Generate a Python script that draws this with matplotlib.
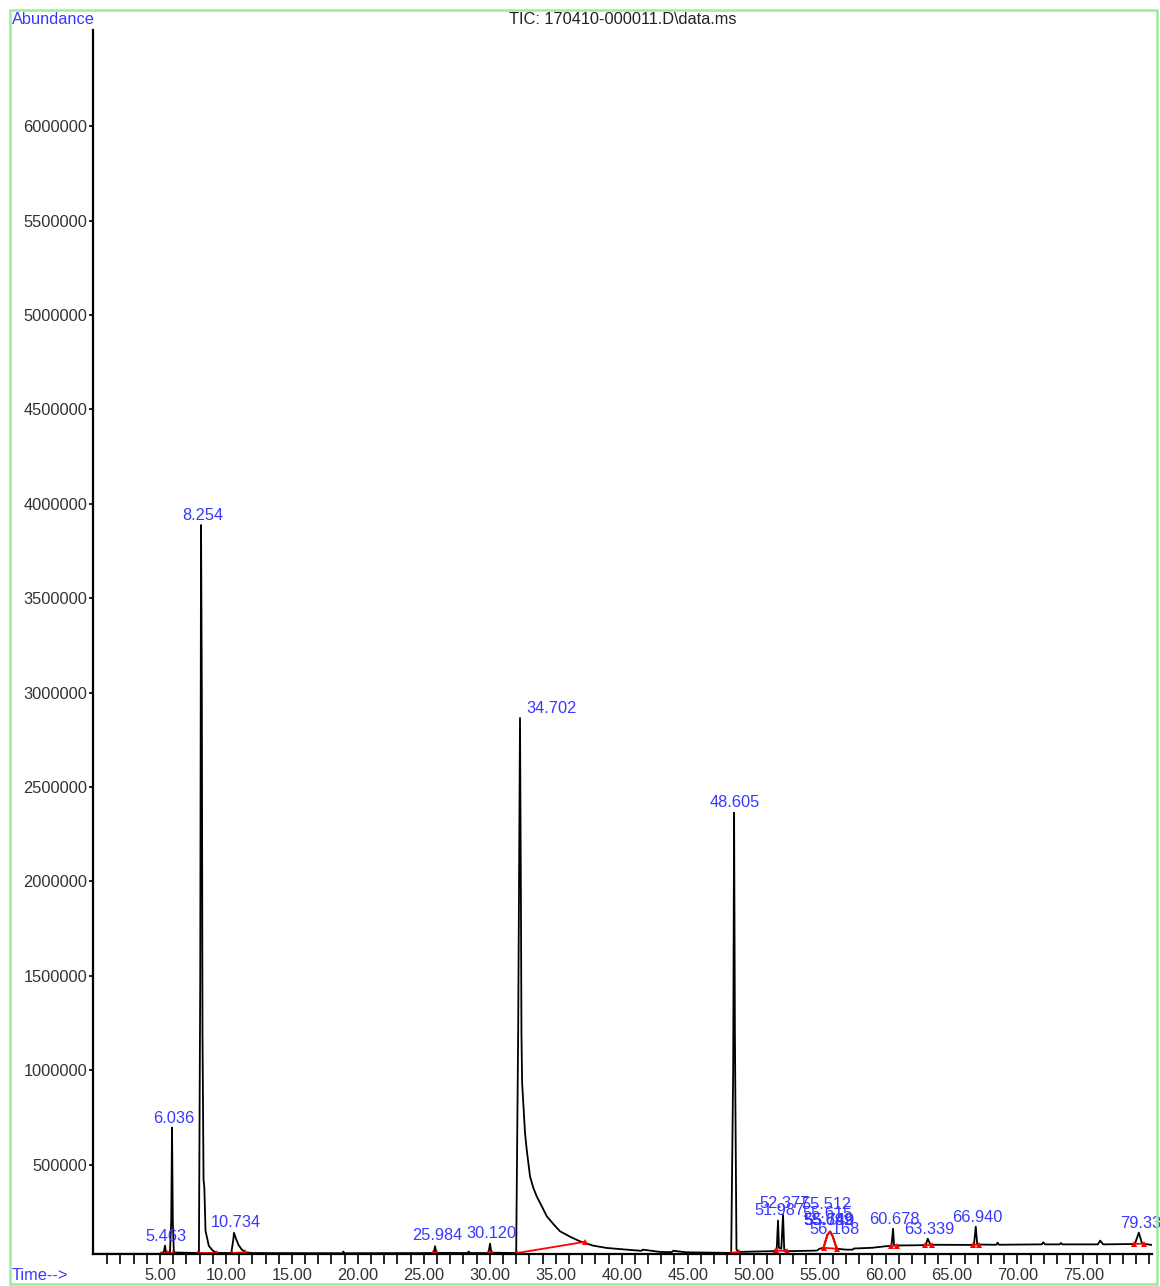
import matplotlib
matplotlib.use("Agg")
import matplotlib.pyplot as plt
from matplotlib.patches import Rectangle

plt.rcParams["font.family"] = ["Liberation Sans", "DejaVu Sans"]

# --- trace vertices (time in min, abundance) ---
trace_t = [
    0.0, 5.10, 5.30, 5.38, 5.45, 5.75, 5.85, 5.91, 5.97, 6.05,
    7.95, 8.05, 8.11, 8.17, 8.22, 8.30, 8.36, 8.45, 8.70, 9.00, 9.30,
    10.40, 10.55, 10.61, 10.75, 10.95, 11.20, 11.50, 12.00,
    18.85, 18.90, 18.95, 25.75, 25.85, 25.95, 28.30, 28.40, 28.50,
    29.90, 30.02, 30.12, 32.00, 32.15, 32.29, 32.36, 32.40, 32.45,
    32.67, 32.80, 33.05, 33.30, 33.56, 33.94, 34.32, 34.85, 35.33,
    36.10, 36.84, 37.85, 38.87, 40.89, 41.50,
    41.60, 42.91, 43.80, 43.90, 44.93, 47.97,
    48.30, 48.45, 48.52, 48.58, 48.70, 48.90, 50.00, 51.50, 51.75,
    51.85, 51.92, 52.10, 52.23, 52.32, 52.60, 54.80, 55.00, 55.30,
    55.60, 55.80, 56.00, 56.30, 57.00, 57.50, 57.60, 59.00, 60.00,
    60.45, 60.57, 60.65, 62.00, 63.05, 63.20, 63.40, 66.70, 66.84,
    66.95, 68.40, 68.50, 68.60, 71.85, 71.95, 72.10, 73.20, 73.30,
    73.40, 76.10, 76.27, 76.50, 78.90, 79.20, 79.45, 80.20,
]
trace_y = [
    28000, 28000, 40000, 72000, 35000, 30000, 200000, 696000, 200000, 35000,
    32000, 1500000, 3888000, 3000000, 1200000, 420000, 380000, 150000, 70000, 45000, 33000,
    32000, 100000, 139000, 110000, 75000, 50000, 36000, 32000,
    31000, 40000, 31000, 32000, 68000, 33000, 32000, 40000, 32000,
    32000, 82000, 34000, 32000, 1200000, 2866000, 1900000, 1200000, 934000,
    668000, 579000, 438000, 377000, 332000, 280000, 227000, 183000, 147000,
    118000, 94000, 71000, 59000, 47000, 44000,
    50000, 38000, 37000, 44000, 36000, 33000,
    33000, 1000000, 2364000, 1200000, 50000, 38000, 40000, 42000, 50000,
    204000, 60000, 55000, 235000, 50000, 42000, 45000, 55000, 60000,
    130000, 146000, 120000, 55000, 50000, 50000, 56000, 60000, 68000,
    70000, 161000, 72000, 73000, 74000, 108000, 76000, 75000, 172000,
    77000, 76000, 87000, 76000, 78000, 89000, 78000, 78000, 85000,
    78000, 78000, 98000, 78000, 80000, 140000, 82000, 75000,
]

# --- peak labels (retention time text, apex abundance) ---
peak_labels = ["5.463", "6.036", "8.254", "10.734", "25.984", "30.120",
               "34.702", "48.605", "51.987", "52.377", "55.512", "55.615",
               "55.649", "55.692", "55.749", "56.168", "60.678", "63.339",
               "66.940", "79.33"]
peak_apex = [71000, 696000, 3894000, 146000, 77000, 87000,
             2867000, 2369000, 209000, 246000, 241000, 195000,
             156000, 156000, 156000, 108000, 161000, 108000,
             172000, 140000]

# --- integration baselines (start, end times and levels) ---
int_start_t = [5.10, 5.60, 7.90, 10.45, 25.70, 29.90, 32.05, 48.30, 51.70, 55.30, 60.40, 63.00, 66.60, 78.80]
int_end_t = [5.50, 6.00, 9.30, 11.45, 26.00, 30.20, 37.25, 48.90, 52.50, 56.30, 60.90, 63.50, 67.10, 79.60]
int_start_y = [28000, 30000, 32000, 32000, 32000, 32000, 32000, 33000, 46000, 60000, 70000, 74000, 75000, 80000]
int_end_y = [30000, 33000, 33000, 36000, 33000, 34000, 92000, 38000, 42000, 55000, 72000, 76000, 77000, 82000]

# red outline of the cluster peak near 55.8 min
cluster_t = [55.30, 55.60, 55.80, 56.00, 56.30]
cluster_y = [60000, 130000, 146000, 120000, 55000]

W, H = 1160, 1286
fig = plt.figure(figsize=(W / 100, H / 100), dpi=100)
ax = fig.add_axes([93 / W, 1 - 1254 / H, (1152 - 93) / W, (1254 - 30) / H])

ax.plot(trace_t, trace_y, color="black", linewidth=1.3, solid_joinstyle="round")
ax.plot(cluster_t, cluster_y, color="red", linewidth=1.5)

for t0, t1, y0, y1 in zip(int_start_t, int_end_t, int_start_y, int_end_y):
    ax.plot([t0, t1], [y0, y1], color="red", linewidth=1.3)
    ax.plot([t0, t1], [y0, y1], linestyle="none", marker="^", markersize=4,
            color="red", markeredgewidth=0)

blue = "#3838ff"
for lab, ya in zip(peak_labels, peak_apex):
    ax.annotate(lab, (float(lab), ya), xytext=(0, 1), textcoords="offset points",
                ha="center", va="bottom", color=blue, fontsize=11.8,
                annotation_clip=False)

ax.set_xlim(-0.08, 80.2)
ax.set_ylim(27000, 6.51e6)

ax.set_xticks([5 * i for i in range(1, 16)])
ax.set_xticklabels([f"{5 * i:.2f}" for i in range(1, 16)])
ax.set_xticks(list(range(1, 81)), minor=True)
ax.set_yticks([500000 * i for i in range(1, 13)])
ax.set_yticklabels([str(500000 * i) for i in range(1, 13)])

ax.tick_params(axis="x", which="both", direction="out", length=7, width=1.2,
               color="black", labelsize=11.8, labelcolor="#333333", pad=3)
ax.tick_params(axis="y", direction="out", length=3, width=1.2, color="black",
               labelsize=11.8, labelcolor="#333333", pad=1)

for side in ["top", "right"]:
    ax.spines[side].set_visible(False)
ax.spines["left"].set_linewidth(1.6)
ax.spines["bottom"].set_linewidth(1.6)

fig.text(623 / W, 1 - 20 / H, "TIC: 170410-000011.D\\data.ms", ha="center",
         va="center", fontsize=11.8, color="#222222")
fig.text(12 / W, 1 - 19 / H, "Abundance", ha="left", va="center",
         fontsize=11.8, color=blue)
fig.text(12 / W, 1 - 1275 / H, "Time-->", ha="left", va="center",
         fontsize=11.8, color=blue)

fig.patches.append(Rectangle((10 / W, 1 - 1284 / H), 1147 / W, 1274 / H,
                             transform=fig.transFigure, fill=False,
                             edgecolor="#99ee99", linewidth=1.8))

fig.savefig("out.png", dpi=100)
